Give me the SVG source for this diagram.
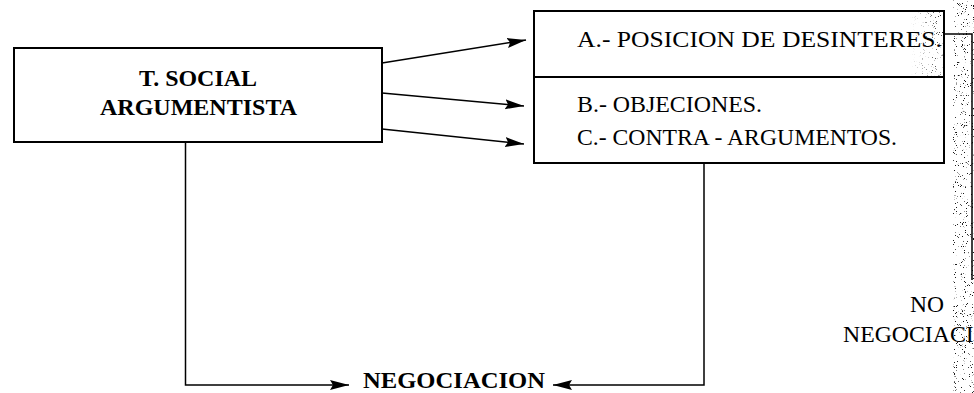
<svg xmlns="http://www.w3.org/2000/svg" width="974" height="393" viewBox="0 0 974 393">
  <style>
    .box { fill: #fff; stroke: #000; stroke-width: 2; }
    .frame { fill: none; stroke: #000; stroke-width: 2; }
    .rule { fill: none; stroke: #000; stroke-width: 2; }
    .link { fill: none; stroke: #000; stroke-width: 1.5; }
    .lbl { font-family: "Liberation Serif", "Times New Roman", serif; font-size: 23px; fill: #000; }
    .bold { font-weight: bold; }
  </style>
  <defs>
    <marker id="head" markerUnits="userSpaceOnUse" markerWidth="22" markerHeight="12" refX="19" refY="5" orient="auto">
      <path d="M0,0 L19,5 L0,10 L3,5 z" fill="#000"/>
    </marker>
    <!-- scanner speckle -->
    <filter id="grain" x="0" y="0" width="100%" height="100%" color-interpolation-filters="sRGB">
      <feTurbulence type="fractalNoise" baseFrequency="1.1" numOctaves="2" seed="7" result="n"/>
      <feColorMatrix in="n" type="matrix" values="0 0 0 0 0.1  0 0 0 0 0.1  0 0 0 0 0.1  16 0 0 0 -10.6" result="dots"/>
      <feComposite in="dots" in2="SourceGraphic" operator="in"/>
    </filter>
    <linearGradient id="fadeL" x1="0" y1="0" x2="1" y2="0">
      <stop offset="0" stop-color="#000" stop-opacity="0"/>
      <stop offset="1" stop-color="#000" stop-opacity="1"/>
    </linearGradient>
  </defs>

  <rect width="974" height="393" fill="#fff"/>

  <!-- page-edge speckle -->
  <g id="grain-areas">
    <rect x="910" y="12" width="34" height="64" fill="url(#fadeL)" filter="url(#grain)"/>
    <rect x="953" y="0" width="21" height="393" fill="#000" filter="url(#grain)"/>
  </g>

  <g id="connectors">
    <line class="link" x1="382" y1="63" x2="526" y2="40" marker-end="url(#head)"/>
    <line class="link" x1="382" y1="93" x2="524" y2="106" marker-end="url(#head)"/>
    <line class="link" x1="382" y1="129" x2="524" y2="144" marker-end="url(#head)"/>
    <path class="link" d="M185.5,142 V385 H349" marker-end="url(#head)"/>
    <path class="link" d="M704,163 V385 H553" marker-end="url(#head)"/>
    <path class="link" d="M944,34 H972 V280"/>
  </g>

  <g id="t-social">
    <rect class="box" x="14" y="48" width="368" height="94"/>
    <text class="lbl bold" x="198" y="86" text-anchor="middle" textLength="118" lengthAdjust="spacingAndGlyphs">T. SOCIAL</text>
    <text class="lbl bold" x="198.5" y="115" text-anchor="middle" textLength="197" lengthAdjust="spacingAndGlyphs">ARGUMENTISTA</text>
  </g>

  <g id="posiciones">
    <rect class="frame" x="534" y="11" width="410" height="152"/>
    <line class="rule" x1="534" y1="77" x2="944" y2="77"/>
    <text class="lbl" x="577" y="47" textLength="365" lengthAdjust="spacingAndGlyphs">A.- POSICION DE DESINTERES.</text>
    <text class="lbl" x="577" y="112" textLength="185" lengthAdjust="spacingAndGlyphs">B.- OBJECIONES.</text>
    <text class="lbl" x="577" y="145" textLength="320" lengthAdjust="spacingAndGlyphs">C.- CONTRA - ARGUMENTOS.</text>
  </g>

  <g id="negociacion">
    <text class="lbl bold" x="363" y="388" textLength="182" lengthAdjust="spacingAndGlyphs">NEGOCIACION</text>
  </g>

  <g id="no-negociacion">
    <text class="lbl" x="910" y="312" textLength="34" lengthAdjust="spacingAndGlyphs">NO</text>
    <text class="lbl" x="843" y="342" textLength="165" lengthAdjust="spacingAndGlyphs">NEGOCIACION</text>
  </g>
</svg>
